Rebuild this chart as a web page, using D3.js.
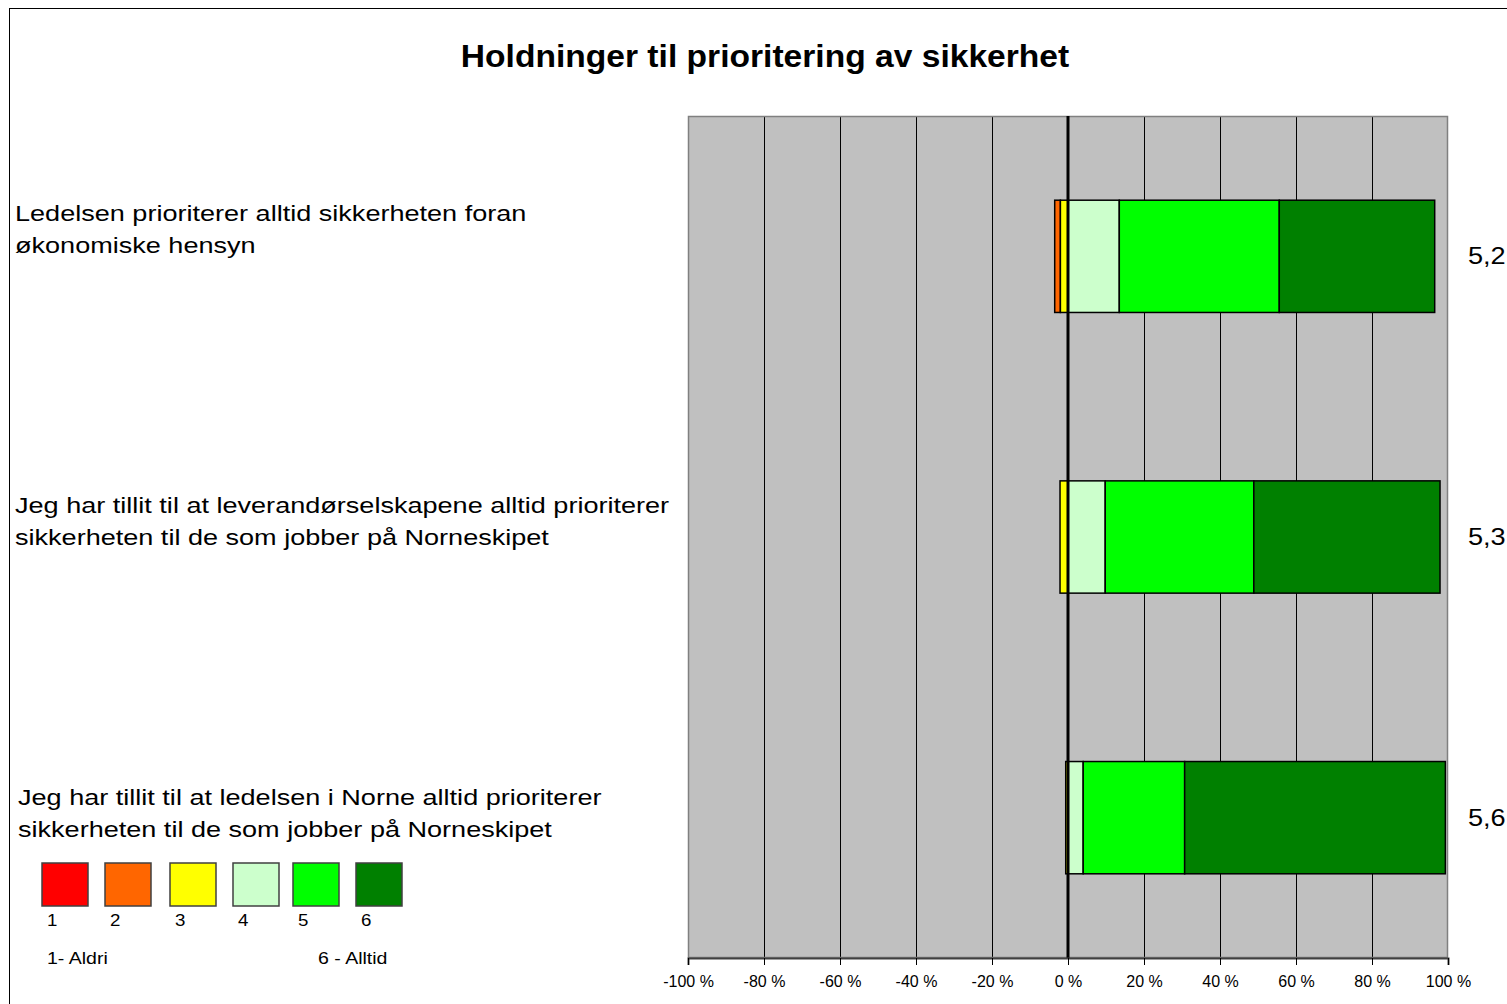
<!DOCTYPE html>
<html>
<head>
<meta charset="utf-8">
<script src="https://cdn.jsdelivr.net/npm/d3@7"></script>
<style>
  body { margin: 0; background: #fff; }
  svg { font-family: Arial, "Liberation Sans", sans-serif; }
</style>
</head>
<body>
<script>
// statements (top to bottom)
const questions = [
  ['Ledelsen prioriterer alltid sikkerheten foran', 'økonomiske hensyn'],
  ['Jeg har tillit til at leverandørselskapene alltid prioriterer', 'sikkerheten til de som jobber på Norneskipet'],
  ['Jeg har tillit til at ledelsen i Norne alltid prioriterer', 'sikkerheten til de som jobber på Norneskipet']
]
const means = ['5,2', '5,3', '5,6']
// share of answers in % per level (1..6)
const level1 = [0, 0, 0]
const level2 = [1.5, 0, 0]
const level3 = [2.0, 2.1, 0.6]
const level4 = [13.5, 9.8, 4.0]
const level5 = [42.1, 39.1, 26.7]
const level6 = [40.9, 49.0, 68.6]
const levelColors = ['#ff0000', '#ff6600', '#ffff00', '#ccffcc', '#00ff00', '#008000']
const tickValues = [-100, -80, -60, -40, -20, 0, 20, 40, 60, 80, 100]

const W = 1507, H = 1004
const svg = d3.select('body').append('svg')
    .attr('width', W)
    .attr('height', H)

// text stretched a bit wider, like the original export
const stretchText = (g, x, y, size, sx) => g.append('text')
    .attr('transform', `translate(${x},${y}) scale(${sx},1)`)
    .attr('font-size', size)

// outer chart frame
svg.append('rect')
    .attr('x', 9.5).attr('y', 8.5)
    .attr('width', 1520).attr('height', 1020)
    .attr('fill', 'none').attr('stroke', '#000')

stretchText(svg, 765, 67, 31, 1.084)
    .attr('text-anchor', 'middle')
    .attr('font-weight', 'bold')
    .text('Holdninger til prioritering av sikkerhet')

const plot = { left: 688, right: 1448, top: 116, bottom: 958 }

const x = d3.scaleLinear().domain([-100, 100]).range([plot.left, plot.right])
const y = d3.scaleBand().domain(d3.range(questions.length))
    .range([plot.top, plot.bottom])
    .paddingInner(0.6).paddingOuter(0.3)

svg.append('rect')
    .attr('x', plot.left).attr('y', plot.top)
    .attr('width', plot.right - plot.left).attr('height', plot.bottom - plot.top)
    .attr('fill', '#c0c0c0')

// vertical gridlines
svg.append('g').selectAll('line')
    .data(tickValues.filter(d => d !== 0 && d !== -100 && d !== 100)).enter()
    .append('line')
    .attr('x1', d => Math.round(x(d)) + 0.5).attr('x2', d => Math.round(x(d)) + 0.5)
    .attr('y1', plot.top).attr('y2', plot.bottom)
    .attr('stroke', '#000').attr('stroke-width', 1)

svg.append('rect')
    .attr('x', plot.left + 0.5).attr('y', plot.top + 0.5)
    .attr('width', plot.right - plot.left - 1).attr('height', plot.bottom - plot.top - 1)
    .attr('fill', 'none').attr('stroke', '#808080').attr('stroke-width', 1.5)

// stacked diverging bars
const levels = [level1, level2, level3, level4, level5, level6]
questions.forEach((q, i) => {
    const vals = levels.map(l => l[i])
    let start = -(vals[0] + vals[1] + vals[2])
    const segs = vals.map((v, k) => {
        const s = { x0: start, x1: start + v, k: k }
        start += v
        return s
    }).filter(s => s.x1 > s.x0)
    svg.append('g').selectAll('rect')
        .data(segs).enter()
        .append('rect')
        .attr('x', d => x(d.x0))
        .attr('width', d => x(d.x1) - x(d.x0))
        .attr('y', y(i))
        .attr('height', y.bandwidth())
        .attr('fill', d => levelColors[d.k])
        .attr('stroke', '#000').attr('stroke-width', 1.5)
})

// zero line
svg.append('line')
    .attr('x1', x(0)).attr('x2', x(0))
    .attr('y1', plot.top).attr('y2', plot.bottom)
    .attr('stroke', '#000').attr('stroke-width', 3)

// x axis
const axis = svg.append('g')
    .attr('transform', `translate(0,${plot.bottom})`)
    .call(d3.axisBottom(x).tickValues(tickValues).tickSize(7).tickFormat(d => d + ' %'))
axis.select('.domain').attr('stroke', '#404040').attr('stroke-width', 2)
axis.selectAll('.tick line').attr('stroke', '#000')
axis.selectAll('.tick text')
    .attr('font-size', 16).attr('font-family', 'Arial, "Liberation Sans", sans-serif')
    .attr('fill', '#000').attr('dy', '1.2em')

// category labels
const labelX = [15, 15, 18]
const labelY = [221, 513, 805]
questions.forEach((q, i) => {
    q.forEach((line, j) => {
        stretchText(svg, labelX[i], labelY[i] + j * 32, 22, 1.23).text(line)
    })
})

// mean values
means.forEach((m, i) => {
    stretchText(svg, 1468, y(i) + y.bandwidth() / 2 + 8, 23, 1.18).text(m)
})

// legend
const legendX = [42, 105, 170, 233, 293, 356]
const lg = svg.append('g')
lg.selectAll('rect')
    .data(levelColors).enter()
    .append('rect')
    .attr('x', (d, i) => legendX[i]).attr('y', 863)
    .attr('width', 46).attr('height', 43)
    .attr('fill', d => d)
    .attr('stroke', '#404040').attr('stroke-width', 1.5)
levelColors.forEach((c, i) => {
    stretchText(lg, legendX[i] + 5, 926, 17, 1.1).text(i + 1)
})
stretchText(lg, 47, 964, 17, 1.15).text('1- Aldri')
stretchText(lg, 318, 964, 17, 1.15).text('6 - Alltid')
</script>
</body>
</html>
